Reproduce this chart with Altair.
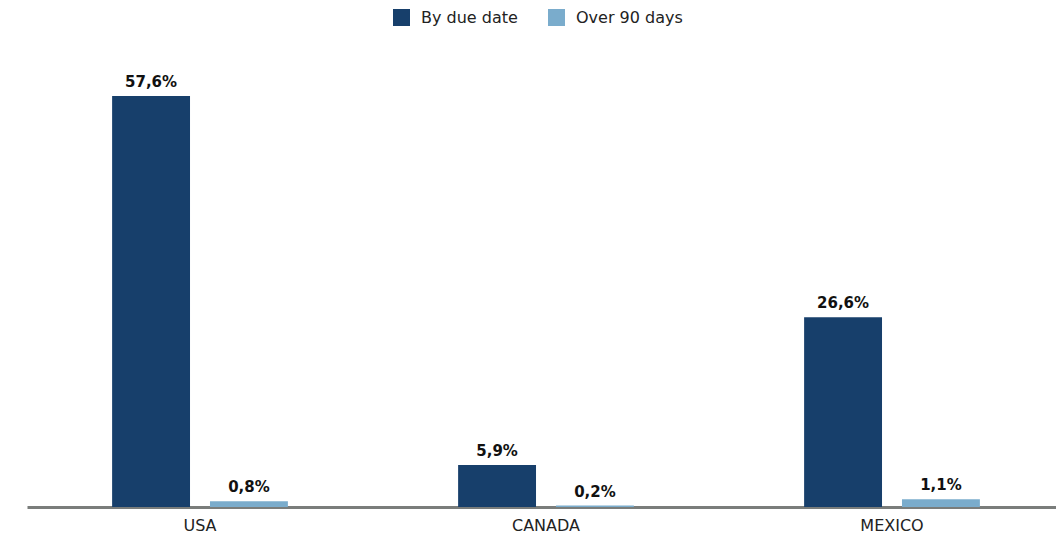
import altair as alt
import pandas as pd

countries = ["USA", "CANADA", "MEXICO"]
series = ["By due date", "Over 90 days"]
by_due_date = [57.6, 5.9, 26.6]
over_90_days = [0.8, 0.2, 1.1]
colors = ["#173f6b", "#7aaccc"]

rows = []
for i, c in enumerate(countries):
    for s, vals in zip(series, [by_due_date, over_90_days]):
        v = vals[i]
        rows.append({"country": c, "series": s, "value": v,
                     "label": f"{v:.1f}".replace(".", ",") + "%"})
df = pd.DataFrame(rows)

FONT = "DejaVu Sans"

x = alt.X("country:N", sort=countries, title=None,
          scale=alt.Scale(paddingInner=0.492, paddingOuter=0.246, range=[0, 1038]),
          axis=alt.Axis(labelAngle=0, ticks=False, domainColor="#7a7d7b", domainWidth=3,
                        labelFontSize=16, labelColor="#222222", labelFont=FONT,
                        labelPadding=10, grid=False))
xoff = alt.XOffset("series:N", sort=series, scale=alt.Scale(paddingInner=0.204, paddingOuter=0))
y = alt.Y("value:Q", scale=alt.Scale(domain=[0, 65.45]), axis=None)

bars = alt.Chart(df).mark_bar().encode(
    x=x, xOffset=xoff, y=y,
    color=alt.Color("series:N", sort=series,
                    scale=alt.Scale(domain=series, range=colors),
                    legend=alt.Legend(title=None, orient="none", direction="horizontal",
                                      legendX=366, legendY=-31, symbolType="square",
                                      symbolSize=289, symbolStrokeWidth=0, labelFontSize=16,
                                      labelFont=FONT, labelColor="#222222", labelOffset=11,
                                      columnPadding=30)),
)
text = alt.Chart(df).mark_text(baseline="bottom", dy=-6, fontSize=15, fontWeight="bold",
                               font=FONT, color="#111111").encode(
    x=x, xOffset=xoff, y=y, text="label:N")

chart = alt.layer(bars, text).properties(
    width=1029, height=467,
    padding={"left": 19, "top": 32, "right": 0, "bottom": 28},
    autosize=alt.AutoSizeParams(type="none"),
).configure_view(stroke=None)

chart.save("out.html", embed_options={"renderer": "svg", "actions": False})
